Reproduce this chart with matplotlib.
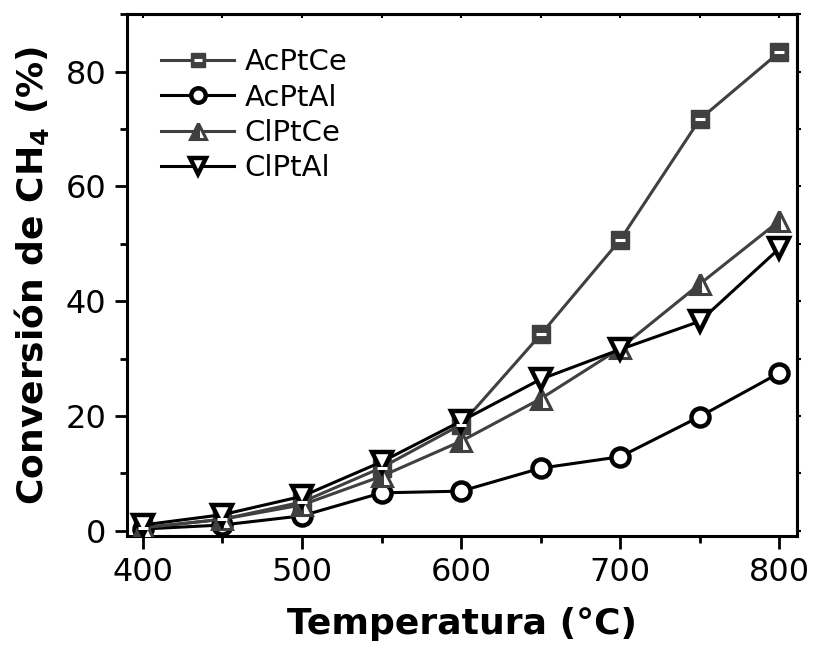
import numpy as np
import matplotlib.pyplot as plt
from matplotlib.ticker import MultipleLocator

# temperature points (°C)
temp = [400, 450, 500, 550, 600, 650, 700, 750, 800]

# CH4 conversion (%)
ac_pt_ce = [0.5, 2.0, 5.0, 11.0, 18.5, 34.2, 50.7, 71.7, 83.4]
ac_pt_al = [0.3, 1.0, 2.6, 6.6, 6.9, 10.9, 12.9, 19.9, 27.5]
cl_pt_ce = [0.5, 2.0, 4.5, 9.5, 15.6, 23.0, 31.8, 43.0, 54.0]
cl_pt_al = [1.0, 2.8, 6.0, 12.0, 19.1, 26.4, 31.6, 36.5, 49.2]
labels = ['AcPtCe', 'AcPtAl', 'ClPtCe', 'ClPtAl']

gray = '#404040'

fig = plt.figure(figsize=(8.14, 6.48), dpi=100)
ax = fig.add_axes([0.156, 0.173, 0.823, 0.805])

# AcPtCe - gray filled square with a white bar inside
l1, = ax.plot(temp, ac_pt_ce, color=gray, lw=2.2, marker='s', ms=13, mfc=gray,
              mec=gray, mew=1, zorder=3)
l1b, = ax.plot(temp, ac_pt_ce, ls='none', marker='_', ms=7, mec='white', mew=2.2, zorder=4)

# AcPtAl - open black circles
l2, = ax.plot(temp, ac_pt_al, color='black', lw=2.2, marker='o', ms=13, mfc='white',
              mec='black', mew=3.2, zorder=3)

# ClPtCe - gray up triangle, partly white
l3, = ax.plot(temp, cl_pt_ce, color=gray, lw=2.2, marker='^', ms=15, fillstyle='left',
              mfc=gray, markerfacecoloralt='white', mec=gray, mew=2.2, zorder=3)

# ClPtAl - open black down triangle
l4, = ax.plot(temp, cl_pt_al, color='black', lw=2.2, marker='v', ms=15, mfc='white',
              mec='black', mew=3.2, zorder=3)

ax.set_xlim(390, 811)
ax.set_ylim(-0.9, 90)

ax.xaxis.set_major_locator(MultipleLocator(100))
ax.xaxis.set_minor_locator(MultipleLocator(50))
ax.yaxis.set_major_locator(MultipleLocator(20))
ax.yaxis.set_minor_locator(MultipleLocator(10))

ax.tick_params(which='major', direction='out', length=9, width=2, labelsize=23,
               pad=6)
ax.tick_params(which='minor', direction='out', length=5, width=2)

# short ticks on the top and right spines
sec_top = ax.secondary_xaxis('top')
sec_top.xaxis.set_major_locator(MultipleLocator(100))
sec_top.xaxis.set_minor_locator(MultipleLocator(50))
sec_top.tick_params(which='both', direction='in', length=3, width=1.5, labeltop=False)
sec_top.spines['top'].set_linewidth(2.2)
sec_right = ax.secondary_yaxis('right')
sec_right.yaxis.set_major_locator(MultipleLocator(20))
sec_right.yaxis.set_minor_locator(MultipleLocator(10))
sec_right.tick_params(which='both', direction='out', length=3, width=1.5, labelright=False)
sec_right.spines['right'].set_linewidth(2.2)
for spine in ax.spines.values():
    spine.set_linewidth(2.2)

ax.set_xlabel('Temperatura (°C)', fontsize=26, fontweight='bold', labelpad=14)
ax.set_ylabel('Conversión de CH$_\\mathbf{4}$ (%)', fontsize=26, fontweight='bold',
              labelpad=10)

leg = ax.legend([(l1, l1b), l2, l3, l4], labels, loc='upper left', frameon=False,
                fontsize=21, handlelength=2.5, markerscale=0.8,
                bbox_to_anchor=(0.012, 0.985), labelspacing=0.25, handletextpad=0.35)
# thinner white bar in the legend square so it stays mostly filled
for h in leg.legend_handles:
    if isinstance(h, tuple):
        h[1].set_markeredgewidth(1.6)

fig.savefig('out.png', dpi=100)
